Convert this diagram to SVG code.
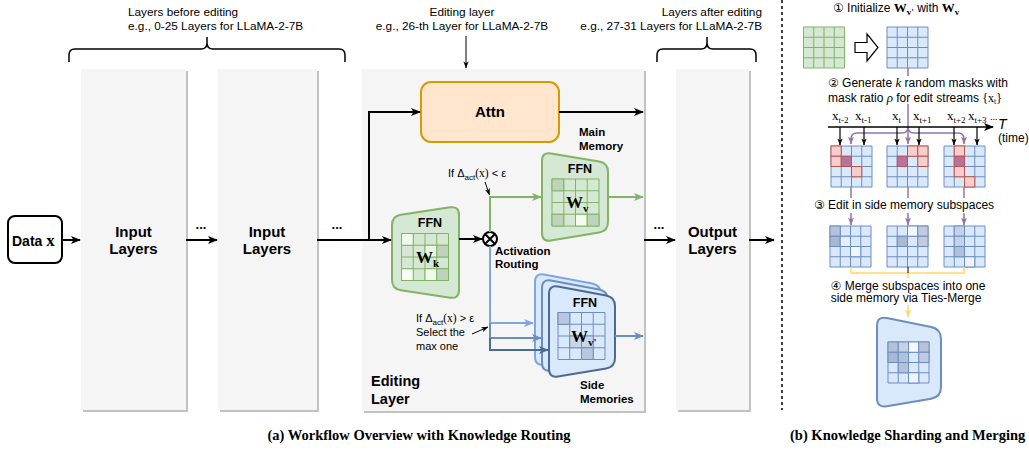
<svg xmlns="http://www.w3.org/2000/svg" width="1029" height="454" viewBox="0 0 1029 454">
<style>
.s{font-family:'Liberation Sans','DejaVu Sans',Arial,sans-serif;fill:#000}
.r{font-family:'Liberation Serif','DejaVu Serif','Times New Roman',serif;fill:#000}
.b{font-weight:bold}
.panel{fill:#f5f5f5}
.shadow{fill:#c2c2c2}
.lk{fill:none;stroke:#000;stroke-width:2}
.lt{fill:none;stroke:#000;stroke-width:1}
.lg{fill:none;stroke:#82b366;stroke-width:2}
.ll{fill:none;stroke:#7ea6e0;stroke-width:2}
.lm{fill:none;stroke:#6c8ebf;stroke-width:2}
.ld{fill:none;stroke:#4b6a94;stroke-width:2}
.lp{fill:none;stroke:#9673a6;stroke-width:1.5}
.ly{fill:none;stroke:#ffd966;stroke-width:1.5}
.gfill{fill:#d5e8d4;stroke:#82b366;stroke-width:2}
.bfill{fill:#dae8fc;stroke:#6c8ebf;stroke-width:2}
.gg{fill:#d5e8d4;stroke:#82b366;stroke-width:1}
.bg{fill:#dae8fc;stroke:#6c8ebf;stroke-width:1}
.pk{fill:#f8cecc;stroke:#b85450;stroke-width:1}
.pp{fill:#b5739d;stroke:#b85450;stroke-width:1}
</style>
<defs>
<marker id="ak" viewBox="0 0 10 8" refX="9" refY="4" markerWidth="10" markerHeight="8" markerUnits="userSpaceOnUse" orient="auto"><path d="M0,0 L10,4 L0,8 L2.5,4 Z" fill="#000"/></marker>
<marker id="aks" viewBox="0 0 8 6" refX="7.5" refY="3" markerWidth="7" markerHeight="6" markerUnits="userSpaceOnUse" orient="auto"><path d="M0,0 L8,3 L0,6 L2,3 Z" fill="#000"/></marker>
<marker id="ag" viewBox="0 0 10 8" refX="9" refY="4" markerWidth="10" markerHeight="8" markerUnits="userSpaceOnUse" orient="auto"><path d="M0,0 L10,4 L0,8 L2.5,4 Z" fill="#82b366"/></marker>
<marker id="al" viewBox="0 0 10 8" refX="9" refY="4" markerWidth="10" markerHeight="8" markerUnits="userSpaceOnUse" orient="auto"><path d="M0,0 L10,4 L0,8 L2.5,4 Z" fill="#7ea6e0"/></marker>
<marker id="am" viewBox="0 0 10 8" refX="9" refY="4" markerWidth="10" markerHeight="8" markerUnits="userSpaceOnUse" orient="auto"><path d="M0,0 L10,4 L0,8 L2.5,4 Z" fill="#6c8ebf"/></marker>
<marker id="ad" viewBox="0 0 10 8" refX="9" refY="4" markerWidth="10" markerHeight="8" markerUnits="userSpaceOnUse" orient="auto"><path d="M0,0 L10,4 L0,8 L2.5,4 Z" fill="#4b6a94"/></marker>
<marker id="ap" viewBox="0 0 8 6" refX="7.5" refY="3" markerWidth="8" markerHeight="6" markerUnits="userSpaceOnUse" orient="auto"><path d="M0,0 L8,3 L0,6 L2,3 Z" fill="#9673a6"/></marker>
<marker id="ay" viewBox="0 0 8 6" refX="7.5" refY="3" markerWidth="8" markerHeight="6" markerUnits="userSpaceOnUse" orient="auto"><path d="M0,0 L8,3 L0,6 L2,3 Z" fill="#ffd966"/></marker>
<path id="g47" d="M0,0H47V47H0Z M11.75,0V47 M23.5,0V47 M35.25,0V47 M0,11.75H47 M0,23.5H47 M0,35.25H47"/>
<path id="g41" d="M0,0H41V41H0Z M10.25,0V41 M20.5,0V41 M30.75,0V41 M0,10.25H41 M0,20.5H41 M0,30.75H41"/>
<path id="sm" d="M549,294 Q549,285 557.85,286.6 L606.15,295.4 Q615,297 615,306 L615,358 Q615,367 606.15,368.6 L557.85,376.4 Q549,378 549,369 Z"/>
</defs>

<rect width="1029" height="454" fill="#fff"/>

<g id="annotations">
<text class="s" font-size="11.8" x="128" y="16">Layers before editing</text>
<text class="s" font-size="11.8" x="128" y="30">e.g., 0-25 Layers for LLaMA-2-7B</text>
<text class="s" font-size="11.8" x="462" y="16" text-anchor="middle">Editing layer</text>
<text class="s" font-size="11.8" x="462" y="30" text-anchor="middle">e.g., 26-th Layer for LLaMA-2-7B</text>
<text class="s" font-size="11.8" x="762" y="16" text-anchor="end">Layers after editing</text>
<text class="s" font-size="11.8" x="762" y="30" text-anchor="end">e.g., 27-31 Layers for LLaMA-2-7B</text>
<path class="lk" style="stroke-width:1.5" d="M69,62 L69,55 Q69,49 75,49 L201,49 Q207,49 207,43 L207,37 M207,43 Q207,49 213,49 L339,49 Q345,49 345,55 L345,62"/>
<path class="lk" style="stroke-width:1.5" d="M657,62 L657,55 Q657,49 663,49 L701,49 Q707,49 707,43 L707,37 M707,43 Q707,49 713,49 L750,49 Q756,49 756,55 L756,62"/>
<path class="lt" d="M466,36 L466,68" marker-end="url(#aks)"/>
</g>

<g id="input-layers-1">
<rect class="shadow" x="83" y="71" width="105" height="341"/>
<rect class="panel" x="81" y="69" width="105" height="341"/>
<text class="s b" font-size="15" x="133.5" y="237" text-anchor="middle">Input</text>
<text class="s b" font-size="15" x="133.5" y="254" text-anchor="middle">Layers</text>
</g>
<g id="input-layers-2">
<rect class="shadow" x="220" y="71" width="99" height="341"/>
<rect class="panel" x="218" y="69" width="99" height="341"/>
<text class="s b" font-size="15" x="267" y="237" text-anchor="middle">Input</text>
<text class="s b" font-size="15" x="267" y="254" text-anchor="middle">Layers</text>
</g>
<g id="editing-layer">
<rect class="shadow" x="364" y="71" width="282" height="342"/>
<rect class="panel" x="362" y="69" width="282" height="342"/>
<text class="s b" font-size="14.5" x="371" y="386">Editing</text>
<text class="s b" font-size="14.5" x="371" y="404">Layer</text>
</g>
<g id="output-layers">
<rect class="shadow" x="678" y="71" width="73" height="341"/>
<rect class="panel" x="676" y="69" width="73" height="341"/>
<text class="s b" font-size="15" x="712.5" y="237" text-anchor="middle">Output</text>
<text class="s b" font-size="15" x="712.5" y="254" text-anchor="middle">Layers</text>
</g>

<g id="data-x">
<rect x="8" y="216" width="54" height="47" rx="7" fill="#fff" stroke="#000" stroke-width="2"/>
<text class="s b" font-size="14" x="12" y="246">Data <tspan class="r" font-size="17">x</tspan></text>
</g>

<g id="attn">
<rect x="421" y="82" width="138" height="60" rx="10" fill="#ffe6cc" stroke="#d79b00" stroke-width="2"/>
<text class="s b" font-size="15" x="490" y="117" text-anchor="middle">Attn</text>
</g>

<g id="ffn-wk">
<path class="gfill" d="M392,225 Q392,216 400.9,214.7 L450.1,207.3 Q459,206 459,215 L459,290 Q459,299 450.1,297.7 L400.9,290.3 Q392,289 392,280 Z"/>
<text class="s b" font-size="12.5" x="430" y="227" text-anchor="middle">FFN</text>
<use href="#g47" x="401.5" y="233.5" class="gg"/>
<rect x="401.5" y="233.5" width="11.75" height="11.75" fill="#effaed" stroke="#82b366"/>
<rect x="425" y="245.25" width="11.75" height="11.75" fill="#eaf6e7" stroke="#82b366"/>
<rect x="436.75" y="245.25" width="11.75" height="11.75" fill="#bfd2bc" stroke="#82b366"/>
<rect x="401.5" y="268.75" width="11.75" height="11.75" fill="#f7fff5" stroke="#82b366"/>
<rect x="425" y="268.75" width="11.75" height="11.75" fill="#eefbea" stroke="#82b366"/>
<rect x="436.75" y="268.75" width="11.75" height="11.75" fill="#bfd2bc" stroke="#82b366"/>
<text class="r b" font-size="17" x="416" y="263">W<tspan font-size="11" dy="4">k</tspan></text>
</g>

<g id="main-memory-ffn-wv">
<path class="gfill" d="M542,161 Q542,152 550.9,153.5 L599.1,161.5 Q608,163 608,172 L608,222 Q608,231 599.1,232.5 L550.9,240.5 Q542,242 542,233 Z"/>
<text class="s b" font-size="12.5" x="580" y="173" text-anchor="middle">FFN</text>
<use href="#g47" x="552" y="179" class="gg"/>
<rect x="552" y="179" width="11.75" height="11.75" fill="#bfd2bc" stroke="#82b366"/>
<rect x="552" y="214.25" width="11.75" height="11.75" fill="#bfd2bc" stroke="#82b366"/>
<rect x="575.5" y="214.25" width="11.75" height="11.75" fill="#f2fdf0" stroke="#82b366"/>
<rect x="587.25" y="214.25" width="11.75" height="11.75" fill="#bfd2bc" stroke="#82b366"/>
<text class="r b" font-size="17" x="566" y="208">W<tspan font-size="11" dy="4">v</tspan></text>
<text class="s b" font-size="11.5" x="579" y="136">Main</text>
<text class="s b" font-size="11.5" x="579" y="150">Memory</text>
</g>

<g id="side-memories">
<use href="#sm" transform="translate(-14,-12)" fill="#dae8fc" stroke="#7ea6e0" stroke-width="2"/>
<use href="#sm" transform="translate(-7,-6)" fill="#dae8fc" stroke="#6c8ebf" stroke-width="2"/>
<use href="#sm" fill="#dae8fc" stroke="#4b6a94" stroke-width="2"/>
<text class="s b" font-size="12.5" x="585" y="307" text-anchor="middle">FFN</text>
<use href="#g47" x="558" y="312.5" class="bg"/>
<rect x="558" y="312.5" width="11.75" height="11.75" fill="#b8c7dd" stroke="#6c8ebf"/>
<rect x="569.75" y="336" width="11.75" height="11.75" fill="#c9d6ea" stroke="#6c8ebf"/>
<rect x="581.5" y="336" width="11.75" height="11.75" fill="#c9d6ea" stroke="#6c8ebf"/>
<rect x="581.5" y="347.75" width="11.75" height="11.75" fill="#b8c7dd" stroke="#6c8ebf"/>
<text class="r b" font-size="17" x="571" y="342">W<tspan font-size="11" dy="4">v'</tspan></text>
<text class="s b" font-size="11.5" x="580" y="389">Side</text>
<text class="s b" font-size="11.5" x="580" y="403">Memories</text>
</g>

<g id="activation-routing">
<circle cx="490" cy="239" r="7" fill="none" stroke="#000" stroke-width="2"/>
<path class="lk" d="M485,234 L495,244 M495,234 L485,244"/>
<text class="s b" font-size="11.5" x="495" y="255">Activation</text>
<text class="s b" font-size="11.5" x="495" y="268">Routing</text>
<text class="s" font-size="11" x="448" y="177">If Δ<tspan font-size="8" dy="2.5">act</tspan><tspan class="r" font-size="11.5" dy="-2.5">(x)</tspan> &lt; ε</text>
<text class="s" font-size="11" x="416" y="322">If Δ<tspan font-size="8" dy="2.5">act</tspan><tspan class="r" font-size="11.5" dy="-2.5">(x)</tspan> &gt; ε</text>
<text class="s" font-size="11" x="416" y="336">Select the</text>
<text class="s" font-size="11" x="416" y="350">max one</text>
</g>

<g id="connectors-a">
<path class="lk" d="M62,240 L80,240" marker-end="url(#ak)"/>
<text class="s b" font-size="13" x="201" y="229" text-anchor="middle">...</text>
<path class="lk" d="M186,240 L217,240" marker-end="url(#ak)"/>
<text class="s b" font-size="13" x="337" y="229" text-anchor="middle">...</text>
<path class="lk" d="M317,240 L391,240" marker-end="url(#ak)"/>
<path class="lk" d="M369,240 L369,112 L420,112" marker-end="url(#ak)"/>
<path class="lk" d="M559,112 L643,112" marker-end="url(#ak)"/>
<path class="lk" d="M459,239 L482,239" marker-end="url(#ak)"/>
<path class="lg" d="M490,232 L490,197 L541,197" marker-end="url(#ag)"/>
<path class="lg" d="M608,197 L643,197" marker-end="url(#ag)"/>
<path class="ll" d="M490,246 L490,323 L533,323" marker-end="url(#al)"/>
<path class="lm" d="M490,323 L490,338 L541,338" marker-end="url(#am)"/>
<path class="ld" d="M490,338 L490,350 L548,350" marker-end="url(#ad)"/>
<path class="lm" d="M615,336 L643,336" marker-end="url(#am)"/>
<path class="lt" d="M485,182 L489.5,195" marker-end="url(#aks)"/>
<path class="lt" d="M472,334 L488,327" marker-end="url(#aks)"/>
<text class="s b" font-size="13" x="659" y="229" text-anchor="middle">...</text>
<path class="lk" d="M644,240 L675,240" marker-end="url(#ak)"/>
<path class="lk" d="M749,240 L774,240" marker-end="url(#ak)"/>
</g>

<path d="M782,0 L782,410" stroke="#000" stroke-width="1.5" stroke-dasharray="3 3" fill="none"/>

<g id="step1">
<text class="s" font-size="12" x="833" y="12">① Initialize <tspan class="r b" font-size="13">W</tspan><tspan class="r b" font-size="9" dy="3">v'</tspan><tspan dy="-3"> with </tspan><tspan class="r b" font-size="13">W</tspan><tspan class="r b" font-size="9" dy="3">v</tspan></text>
<use href="#g41" x="803.5" y="27" class="gg"/>
<path d="M855,42.5 L867,42.5 L867,34 L878,47.5 L867,61 L867,52.5 L855,52.5 Z" fill="#fff" stroke="#000" stroke-width="1.2"/>
<use href="#g41" x="887" y="27" class="bg"/>
</g>

<g id="step2">
<path class="lp" d="M908,68 L908,144" marker-end="url(#ap)"/>
<path class="lp" d="M908,127 Q908,133 902,133 L857,133 Q851,133 851,139 L851,144" marker-end="url(#ap)"/>
<path class="lp" d="M908,127 Q908,133 914,133 L958,133 Q964,133 964,139 L964,144" marker-end="url(#ap)"/>
<rect x="826" y="76" width="182" height="28" fill="#fff"/>
<text class="s" font-size="12" x="828" y="87">② Generate <tspan class="r" font-style="italic" font-size="13">k</tspan> random masks with</text>
<text class="s" font-size="12" x="828" y="102">mask ratio <tspan class="r" font-style="italic" font-size="13">ρ</tspan> for edit streams <tspan class="r">{x<tspan font-size="8" dy="2">t</tspan><tspan dy="-2">}</tspan></tspan></text>
<path class="lk" style="stroke-width:1.5" d="M828,127 L993,127" marker-end="url(#ak)"/>
<text class="s" font-size="14" font-style="italic" x="998" y="129">T</text>
<text class="s" font-size="12" x="998" y="142">(time)</text>
<g class="r" font-size="13">
<text x="832" y="120">x<tspan font-size="9" dy="3">t-2</tspan></text>
<text x="855" y="120">x<tspan font-size="9" dy="3">t-1</tspan></text>
<text x="892" y="120">x<tspan font-size="9" dy="3">t</tspan></text>
<text x="913" y="120">x<tspan font-size="9" dy="3">t+1</tspan></text>
<text x="947" y="120">x<tspan font-size="9" dy="3">t+2</tspan></text>
<text x="968" y="120">x<tspan font-size="9" dy="3">t+3</tspan></text>
<text x="990" y="120" font-size="10">...</text>
</g>
<path class="lt" style="stroke-width:1.2" d="M840,127 L840,145" marker-end="url(#aks)"/>
<path class="lt" style="stroke-width:1.2" d="M864,127 L864,145" marker-end="url(#aks)"/>
<path class="lt" style="stroke-width:1.2" d="M897,127 L897,145" marker-end="url(#aks)"/>
<path class="lt" style="stroke-width:1.2" d="M919,127 L919,145" marker-end="url(#aks)"/>
<path class="lt" style="stroke-width:1.2" d="M954,127 L954,145" marker-end="url(#aks)"/>
<path class="lt" style="stroke-width:1.2" d="M977,127 L977,145" marker-end="url(#aks)"/>
<use href="#g41" x="831" y="146" class="bg"/>
<rect class="pk" x="831" y="146" width="10.25" height="10.25"/>
<rect class="pk" x="831" y="156.25" width="10.25" height="10.25"/>
<rect class="pp" x="841.25" y="156.25" width="10.25" height="10.25"/>
<rect class="pk" x="851.5" y="166.5" width="10.25" height="10.25"/>
<use href="#g41" x="887" y="146" class="bg"/>
<rect class="pk" x="907.5" y="146" width="10.25" height="10.25"/>
<rect class="pk" x="917.75" y="146" width="10.25" height="10.25"/>
<rect class="pp" x="897.25" y="156.25" width="10.25" height="10.25"/>
<rect class="pk" x="917.75" y="156.25" width="10.25" height="10.25"/>
<use href="#g41" x="944" y="146" class="bg"/>
<rect class="pk" x="954.25" y="146" width="10.25" height="10.25"/>
<rect class="pp" x="954.25" y="156.25" width="10.25" height="10.25"/>
<rect class="pk" x="954.25" y="166.5" width="10.25" height="10.25"/>
<rect class="pk" x="964.5" y="176.75" width="10.25" height="10.25"/>
</g>

<g id="step3">
<path class="lp" d="M851,187 L851,225" marker-end="url(#ap)"/>
<path class="lp" d="M908,187 L908,225" marker-end="url(#ap)"/>
<path class="lp" d="M964,187 L964,225" marker-end="url(#ap)"/>
<rect x="813" y="198" width="182" height="15" fill="#fff"/>
<text class="s" font-size="12" x="904" y="209" text-anchor="middle">③ Edit in side memory subspaces</text>
<use href="#g41" x="830" y="226" class="bg"/>
<rect x="830" y="226" width="10.25" height="10.25" fill="#b3c2d9" stroke="#6c8ebf"/>
<rect x="830" y="236.25" width="10.25" height="10.25" fill="#a9b8d0" stroke="#6c8ebf"/>
<rect x="840.25" y="236.25" width="10.25" height="10.25" fill="#e6eefc" stroke="#6c8ebf"/>
<rect x="850.5" y="246.5" width="10.25" height="10.25" fill="#f0f5ff" stroke="#6c8ebf"/>
<use href="#g41" x="887" y="226" class="bg"/>
<rect x="907.5" y="226" width="10.25" height="10.25" fill="#f4f7ff" stroke="#6c8ebf"/>
<rect x="917.75" y="226" width="10.25" height="10.25" fill="#c3c9e0" stroke="#6c8ebf"/>
<rect x="897.25" y="236.25" width="10.25" height="10.25" fill="#abb9d0" stroke="#6c8ebf"/>
<rect x="917.75" y="236.25" width="10.25" height="10.25" fill="#c3c9e0" stroke="#6c8ebf"/>
<use href="#g41" x="944" y="226" class="bg"/>
<rect x="954.25" y="226" width="10.25" height="10.25" fill="#c6d1e6" stroke="#6c8ebf"/>
<rect x="954.25" y="236.25" width="10.25" height="10.25" fill="#c6d1e6" stroke="#6c8ebf"/>
<rect x="954.25" y="246.5" width="10.25" height="10.25" fill="#b3c1d8" stroke="#6c8ebf"/>
<rect x="964.5" y="256.75" width="10.25" height="10.25" fill="#eef3fd" stroke="#6c8ebf"/>
</g>

<g id="step4">
<path class="ly" d="M851,267 L851,273 L964,273 L964,267"/>
<path class="ly" d="M908,273 L908,317" marker-end="url(#ay)"/>
<path class="lt" d="M908,267 L908,273"/>
<rect x="828" y="278" width="160" height="27" fill="#fff"/>
<text class="s" font-size="12" x="908" y="290" text-anchor="middle">④ Merge subspaces into one</text>
<text class="s" font-size="12" x="906" y="302" text-anchor="middle">side memory via Ties-Merge</text>
<path class="bfill" d="M877,326 Q877,316 886.8,318 L931.2,327 Q941,329 941,339 L941,387 Q941,397 931.2,398.7 L886.8,406.3 Q877,408 877,398 Z"/>
<use href="#g41" x="888" y="342" class="bg"/>
<rect x="888" y="342" width="10.25" height="10.25" fill="#b3c2d9" stroke="#6c8ebf"/>
<rect x="898.25" y="342" width="10.25" height="10.25" fill="#c6d1e6" stroke="#6c8ebf"/>
<rect x="908.5" y="342" width="10.25" height="10.25" fill="#f5f8ff" stroke="#6c8ebf"/>
<rect x="918.75" y="342" width="10.25" height="10.25" fill="#b8c3da" stroke="#6c8ebf"/>
<rect x="888" y="352.25" width="10.25" height="10.25" fill="#a9b8d0" stroke="#6c8ebf"/>
<rect x="898.25" y="352.25" width="10.25" height="10.25" fill="#b3c1d8" stroke="#6c8ebf"/>
<rect x="918.75" y="352.25" width="10.25" height="10.25" fill="#c3c9e0" stroke="#6c8ebf"/>
<rect x="898.25" y="362.5" width="10.25" height="10.25" fill="#b3c1d8" stroke="#6c8ebf"/>
<rect x="908.5" y="372.75" width="10.25" height="10.25" fill="#eef3fd" stroke="#6c8ebf"/>
</g>

<g id="captions">
<text class="r b" font-size="14.5" x="419" y="440" text-anchor="middle">(a) Workflow Overview with Knowledge Routing</text>
<text class="r b" font-size="14.5" x="790" y="440">(b) Knowledge Sharding and Merging</text>
</g>
</svg>
